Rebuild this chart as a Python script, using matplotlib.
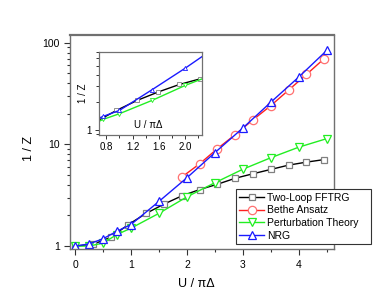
import numpy as np
import matplotlib.pyplot as plt
from matplotlib.ticker import LogLocator, MultipleLocator, NullFormatter, FixedLocator

plt.rcParams['font.family'] = ['Liberation Sans', 'DejaVu Sans']

# %% DATA
k = np.arange(15)
u_fftrg = k / np.pi
z_fftrg = [1.0, 1.04, 1.22, 1.63, 2.1, 2.59, 3.12, 3.6, 4.06, 4.65, 5.15, 5.68, 6.26, 6.7, 7.1]

u_bethe = np.arange(6, 15) / np.pi
z_bethe = [4.78, 6.45, 9.1, 12.5, 17.5, 24.1, 34.3, 48.8, 70.0]

u_pt = [0, 0.25, 0.5, 0.75, 1.0, 1.5, 2.0, 2.5, 3.0, 3.5, 4.0, 4.5]
z_pt = [1.0, 1.0, 1.07, 1.3, 1.5, 2.1, 3.05, 4.2, 5.7, 7.4, 9.4, 11.4]

u_nrg = [0, 0.25, 0.5, 0.75, 1.0, 1.5, 2.0, 2.5, 3.0, 3.5, 4.0, 4.5]
z_nrg = [1.0, 1.05, 1.18, 1.40, 1.63, 2.75, 4.7, 8.3, 14.5, 26.0, 46.0, 84.0]

series = [
    (u_fftrg, z_fftrg, 'Two-Loop FFTRG', 'black', '#808080', 's', 5),
    (u_bethe, z_bethe, 'Bethe Ansatz', '#ff2020', '#ff7070', 'o', 6),
    (u_pt, z_pt, 'Perturbation Theory', '#22ee22', '#22ee22', 'v', 6),
    (u_nrg, z_nrg, 'NRG', '#1a1aff', '#1a1aff', '^', 6),
]

spine_col = '#707070'

fig = plt.figure(figsize=(3.88, 3.0), dpi=100)
ax = fig.add_axes([0.1804, 0.169, 0.6804, 0.714])

for u, z, lab, lc, mc, mk, ms in series:
    ax.plot(u, z, color=lc, lw=1.0, marker=mk, ms=ms, mec=mc, mfc='white',
            mew=0.9, label=lab)

ax.set_yscale('log')
ax.set_xlim(-0.09, 4.63)
ax.set_ylim(0.93, 119)
ax.xaxis.set_major_locator(MultipleLocator(1))
ax.xaxis.set_minor_locator(MultipleLocator(0.5))
ax.yaxis.set_major_locator(FixedLocator([1, 10, 100]))
ax.yaxis.set_major_formatter(plt.FuncFormatter(lambda v, p: '%g' % v))
ax.yaxis.set_minor_locator(LogLocator(base=10, subs=np.arange(2, 10)))
ax.yaxis.set_minor_formatter(NullFormatter())
ax.tick_params(which='major', length=4, width=0.8, labelsize=7.5, color='#333333')
ax.tick_params(which='minor', length=2.5, width=0.8, color='#333333')
for s in ax.spines.values():
    s.set_color(spine_col)
    s.set_linewidth(1.0)
ax.spines['top'].set_linewidth(1.6)
ax.set_xlabel('U / πΔ', fontsize=9)
ax.set_ylabel('1 / Z', fontsize=9)
ax.xaxis.set_label_coords(0.477, -0.134)
ax.yaxis.set_label_coords(-0.133, 0.47)

leg = ax.legend(loc='lower left', bbox_to_anchor=(0.6075, 0.1857, 0.3485, 0.1976),
                bbox_transform=fig.transFigure, mode='expand', fontsize=7.5,
                frameon=True, fancybox=False, framealpha=1, edgecolor='#333333',
                handlelength=2.4, handletextpad=0.3, borderpad=0.35,
                labelspacing=0.25, borderaxespad=0)
leg.get_frame().set_linewidth(0.8)

# %% INSET (no Bethe Ansatz curve here)
ins = fig.add_axes([0.2552, 0.55, 0.2647, 0.2777])
for u, z, lab, lc, mc, mk, ms in series:
    if lab == 'Bethe Ansatz':
        continue
    ins.plot(u, z, color=lc, lw=1.0, marker=mk, ms=3, mec=mc, mfc='white', mew=0.6)
ins.set_yscale('log')
ins.set_xlim(0.69, 2.25)
ins.set_ylim(0.88, 7.1)
ins.xaxis.set_major_locator(FixedLocator([0.8, 1.2, 1.6, 2.0]))
ins.xaxis.set_minor_locator(MultipleLocator(0.2))
ins.yaxis.set_major_locator(FixedLocator([1]))
ins.yaxis.set_major_formatter(plt.FuncFormatter(lambda v, p: '%g' % v))
ins.yaxis.set_minor_locator(LogLocator(base=10, subs=np.arange(2, 10)))
ins.yaxis.set_minor_formatter(NullFormatter())
ins.tick_params(which='major', length=3, width=0.7, labelsize=7, color='#333333', pad=2)
ins.tick_params(which='minor', length=2, width=0.7, color='#333333')
for s in ins.spines.values():
    s.set_color(spine_col)
    s.set_linewidth(0.9)
ins.set_ylabel('1 / Z', fontsize=7)
ins.yaxis.set_label_coords(-0.11, 0.5)
ins.text(0.48, 0.12, 'U / πΔ', transform=ins.transAxes, fontsize=7,
         ha='center', va='center')

fig.savefig('out.png', dpi=100)
